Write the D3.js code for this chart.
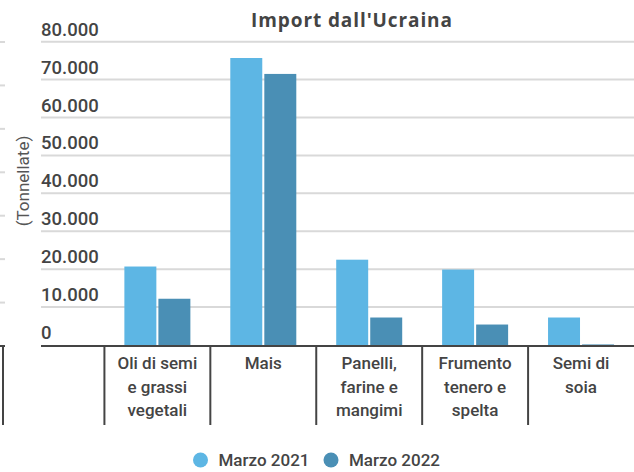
<!DOCTYPE html>
<html>
<head>
<meta charset="utf-8">
<script src="https://cdn.jsdelivr.net/npm/d3@7"></script>
<style>
  body { margin: 0; background: #fff; }
  svg { display: block; font-family: Roboto, sans-serif; }
</style>
</head>
<body>
<div id="chart"></div>
<script>
// data
const categories = ["", "Oli di semi|e grassi|vegetali", "Mais", "Panelli,|farine e|mangimi", "Frumento|tenero e|spelta", "Semi di|soia"];
const series = ["Marzo 2021", "Marzo 2022"];
const values2021 = [null, 20700, 75700, 22500, 19900, 7250];
const values2022 = [null, 12200, 71500, 7250, 5400, 150];
const yTicks = [0, 10000, 20000, 30000, 40000, 50000, 60000, 70000, 80000];
const colors = ["#5db6e4", "#4a8fb5"];

const W = 634, H = 472;
const svg = d3.select("#chart").append("svg")
  .attr("width", W).attr("height", H);

const x = d3.scaleBand().domain(categories).range([-1.5, 634]);
const y = d3.scaleLinear().domain([0, 80000]).range([345, 41.7]);

// faint stubs of a second axis at the far left edge
const yGhost = d3.scaleLinear().domain([0, 70000]).range([346, 42]);
svg.append("g").selectAll("line")
  .data(d3.range(10000, 70001, 10000))
  .join("line")
  .attr("x1", 0).attr("x2", 5)
  .attr("y1", d => yGhost(d)).attr("y2", d => yGhost(d))
  .attr("stroke", "#d9d9d9").attr("stroke-width", 2);
svg.append("line").attr("x1", 0).attr("x2", 5)
  .attr("y1", 346).attr("y2", 346)
  .attr("stroke", "#444").attr("stroke-width", 2);
svg.append("line").attr("x1", 3).attr("x2", 3)
  .attr("y1", 346).attr("y2", 425)
  .attr("stroke", "#444").attr("stroke-width", 2);

// gridlines + labels
const grid = svg.append("g");
grid.selectAll("line")
  .data(yTicks.filter(d => d > 0))
  .join("line")
  .attr("x1", 41).attr("x2", W)
  .attr("y1", d => y(d)).attr("y2", d => y(d))
  .attr("stroke", "#d9d9d9").attr("stroke-width", 2);

const fmt = d3.formatLocale({ decimal: ",", thousands: ".", grouping: [3], currency: ["", "€"] }).format(",");
grid.selectAll("text")
  .data(yTicks)
  .join("text")
  .attr("x", 41)
  .attr("y", d => y(d) - 6)
  .attr("fill", "#444")
  .style("font-size", "18.5px")
  .style("font-weight", "500")
  .text(d => fmt(d));

// bars
const inner = d3.scaleBand().domain(series).range([0, 66]).paddingInner(0.06);
const groups = svg.append("g").selectAll("g")
  .data(categories.map((c, i) => ({ c, vals: [values2021[i], values2022[i]] })))
  .join("g")
  .attr("transform", d => `translate(${x(d.c) + x.bandwidth() / 2 - 33},0)`);

groups.selectAll("rect")
  .data(d => d.vals.map((v, i) => ({ v, s: series[i], i })).filter(e => e.v != null))
  .join("rect")
  .attr("x", e => inner(e.s))
  .attr("width", inner.bandwidth())
  .attr("y", e => y(e.v))
  .attr("height", e => y(0) - y(e.v))
  .attr("fill", e => colors[e.i]);

// baseline & category axis
svg.append("line")
  .attr("x1", 41).attr("x2", W)
  .attr("y1", 346).attr("y2", 346)
  .attr("stroke", "#444").attr("stroke-width", 2);

svg.append("g").selectAll("line")
  .data(categories.slice(1))
  .join("line")
  .attr("x1", d => x(d)).attr("x2", d => x(d))
  .attr("y1", 346).attr("y2", 425)
  .attr("stroke", "#444").attr("stroke-width", 2);

svg.append("g").selectAll("text")
  .data(categories.slice(1))
  .join("text")
  .attr("text-anchor", "middle")
  .attr("fill", "#444")
  .style("font-size", "17px")
  .style("font-weight", "500")
  .each(function (d) {
    const t = d3.select(this);
    d.split("|").forEach((line, i) => {
      t.append("tspan")
        .attr("x", x(d) + x.bandwidth() / 2)
        .attr("y", 369 + i * 23.5)
        .text(line);
    });
  });

// y title
svg.append("text")
  .attr("transform", "translate(29,181) rotate(-90)")
  .attr("text-anchor", "middle")
  .attr("fill", "#555")
  .style("font-size", "17px")
  .text("(Tonnellate)");

// title
svg.append("text")
  .attr("x", 352).attr("y", 27)
  .attr("text-anchor", "middle")
  .attr("fill", "#444")
  .style("font-family", "'Open Sans', sans-serif")
  .style("font-size", "19px")
  .style("font-weight", "700")
  .style("letter-spacing", "0.9px")
  .text("Import dall'Ucraina");

// legend
const legendX = [200.5, 331];
const legend = svg.append("g").selectAll("g")
  .data(series)
  .join("g")
  .attr("transform", (d, i) => `translate(${legendX[i]},460)`);
legend.append("circle").attr("r", 7.5).attr("fill", (d, i) => colors[i]);
legend.append("text")
  .attr("x", 18).attr("y", 6)
  .attr("fill", "#444")
  .style("font-size", "17px")
  .style("font-weight", "500")
  .text(d => d);
</script>
</body>
</html>
